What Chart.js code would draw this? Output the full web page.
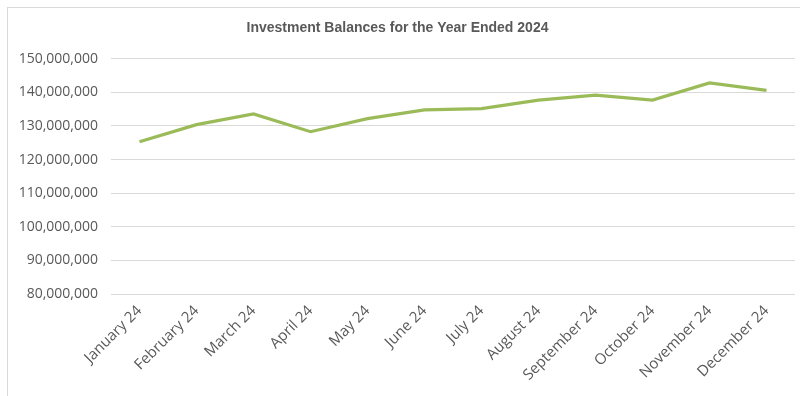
<!DOCTYPE html>
<html>
<head>
<meta charset="utf-8">
<script src="https://cdn.jsdelivr.net/npm/chart.js@4"></script>
<style>
  html, body { margin: 0; padding: 0; background: #fff; }
  #frame { position: absolute; left: 7px; top: 7px; width: 820px; height: 420px; border: 1px solid #d9d9d9; }
  #wrap { position: absolute; left: 0; top: 0; width: 800px; height: 396px; }
</style>
</head>
<body>
<div id="frame"></div>
<div id="wrap"><canvas id="lineChart"></canvas></div>
<script>
// Dane wykresu
const months = ['January 24', 'February 24', 'March 24', 'April 24', 'May 24', 'June 24',
  'July 24', 'August 24', 'September 24', 'October 24', 'November 24', 'December 24'];
const balances = [125300000, 130400000, 133600000, 128300000, 132200000, 134800000,
  135200000, 137700000, 139200000, 137700000, 142800000, 140600000];
const yMin = 80000000;
const yMax = 150000000;
const yStep = 10000000;

const textColor = '#595959';
const fontFamily = "'Century Gothic', 'Open Sans', sans-serif";

const ctx = document.getElementById('lineChart').getContext('2d');
const lineChart = new Chart(ctx, {
  type: 'line',
  data: {
    labels: months,
    datasets: [{
      label: 'Investment Balance',
      data: balances,
      borderColor: '#9bbb59',
      borderWidth: 3.2,
      pointRadius: 0,
      tension: 0,
      fill: false
    }]
  },
  options: {
    responsive: true,
    maintainAspectRatio: false,
    animation: false,
    layout: { padding: { left: 0, right: 5, top: 0, bottom: 0 } },
    plugins: {
      legend: { display: false },
      tooltip: { enabled: false },
      title: {
        display: true,
        text: 'Investment Balances for the Year Ended 2024',
        color: textColor,
        font: { family: "'Liberation Sans', sans-serif", size: 14, weight: 'bold' },
        padding: { top: 20, bottom: 22 }
      }
    },
    scales: {
      x: {
        offset: true,
        grid: { display: false, drawTicks: false },
        border: { display: false },
        ticks: {
          color: textColor,
          font: { family: fontFamily, size: 15 },
          maxRotation: 45,
          minRotation: 45,
          padding: 8,
          autoSkip: false
        },
        afterFit: (scale) => { scale.height = 102; }
      },
      y: {
        min: yMin,
        max: yMax,
        grid: { color: '#d9d9d9', lineWidth: 1, drawTicks: false },
        border: { display: false },
        ticks: {
          stepSize: yStep,
          color: textColor,
          font: { family: fontFamily, size: 14 },
          padding: 13,
          callback: (v) => v.toLocaleString('en-US')
        },
        afterFit: (scale) => { scale.width = 111; }
      }
    }
  }
});
</script>
</body>
</html>
